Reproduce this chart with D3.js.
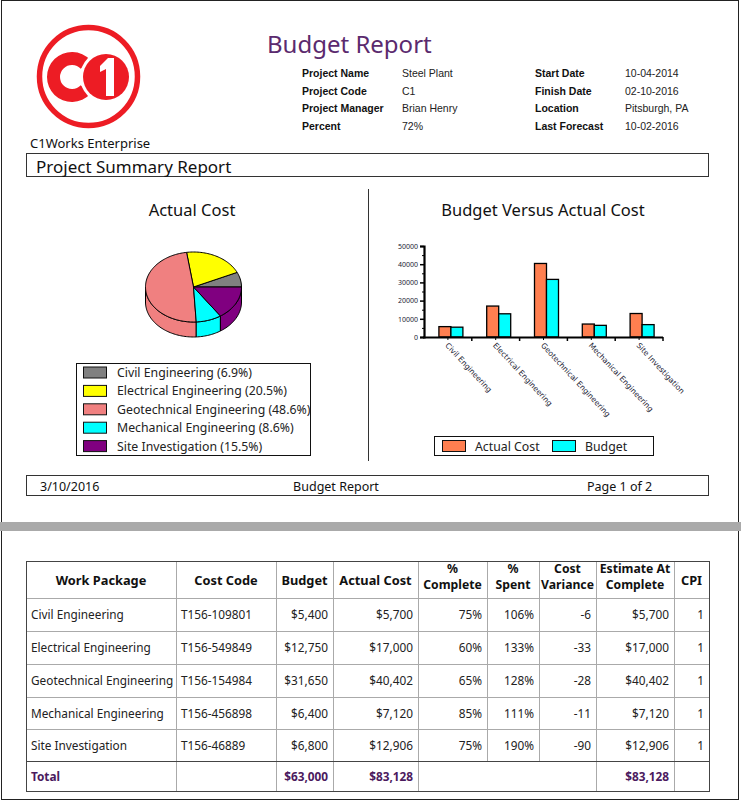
<!DOCTYPE html>
<html>
<head>
<meta charset="utf-8">
<script src="https://cdn.jsdelivr.net/npm/d3@7"></script>
<style>
  body { margin: 0; background: #fff; }
  svg text { font-family: "Noto Sans", "Open Sans", sans-serif; }
</style>
</head>
<body>
<div id="chart"></div>
<script>
// report data
var packages = ["Civil Engineering", "Electrical Engineering", "Geotechnical Engineering", "Mechanical Engineering", "Site Investigation"];
var costCodes = ["T156-109801", "T156-549849", "T156-154984", "T156-456898", "T156-46889"];
var budget = [5400, 12750, 31650, 6400, 6800];
var actual = [5700, 17000, 40402, 7120, 12906];
var pctComplete = ["75%", "60%", "65%", "85%", "75%"];
var pctSpent = ["106%", "133%", "128%", "111%", "190%"];
var costVariance = [-6, -33, -28, -11, -90];
var estimate = [5700, 17000, 40402, 7120, 12906];
var cpi = [1, 1, 1, 1, 1];
var yTicks = [0, 10000, 20000, 30000, 40000, 50000];
var infoLeft = [["Project Name", "Steel Plant"], ["Project Code", "C1"], ["Project Manager", "Brian Henry"], ["Percent", "72%"]];
var infoRight = [["Start Date", "10-04-2014"], ["Finish Date", "02-10-2016"], ["Location", "Pitsburgh, PA"], ["Last Forecast", "10-02-2016"]];
var tableHeaders = [["Work Package"], ["Cost Code"], ["Budget"], ["Actual Cost"], ["%", "Complete"], ["%", "Spent"], ["Cost", "Variance"], ["Estimate At", "Complete"], ["CPI"]];

var pieColors = ["#808080", "#ffff00", "#f08080", "#00ffff", "#800080"];
var barColors = ["#ff7f50", "#00ffff"];
var purple = "#5b2a6e";

var W = 741, H = 801;
var svg = d3.select("#chart").append("svg").attr("width", W).attr("height", H);

// page borders
svg.append("rect").attr("x", 1.5).attr("y", 0.5).attr("width", 737).attr("height", 799)
  .attr("fill", "none").attr("stroke", "#222");
svg.append("rect").attr("x", 0).attr("y", 522).attr("width", W).attr("height", 9).attr("fill", "#aaa");

// logo
var logo = svg.append("g");
logo.append("circle").attr("cx", 88.5).attr("cy", 76.5).attr("r", 49).attr("fill", "none")
  .attr("stroke", "#ed1c24").attr("stroke-width", 5.5);
var cArc = d3.arc().innerRadius(12).outerRadius(25).startAngle(0.75).endAngle(2 * Math.PI - 0.75);
logo.append("path").attr("d", cArc()).attr("transform", "translate(72,77) rotate(90)")
  .attr("fill", "#ed1c24");
logo.append("circle").attr("cx", 106).attr("cy", 77).attr("r", 26).attr("fill", "#fff");
logo.append("circle").attr("cx", 106).attr("cy", 77).attr("r", 23).attr("fill", "#ed1c24");
logo.append("path").attr("d", "M100,66 L108,58 L114,58 L114,96 L106,96 L106,69 L100,72 Z").attr("fill", "#fff");

svg.append("text").attr("x", 30).attr("y", 148).attr("font-size", 13).attr("fill", "#111").text("C1Works Enterprise");

// title + project info
svg.append("text").attr("x", 267).attr("y", 53).attr("font-size", 24).attr("fill", purple).text("Budget Report");
function infoBlock(rows, xl, xv) {
  rows.forEach(function(r, i) {
    var y = 77 + i * 17.5;
    svg.append("text").attr("x", xl).attr("y", y).attr("font-size", 10.5).attr("font-weight", "bold")
      .style("font-family", "'Liberation Sans', sans-serif").attr("fill", "#111").text(r[0]);
    svg.append("text").attr("x", xv).attr("y", y).attr("font-size", 10.5)
      .style("font-family", "'Liberation Sans', sans-serif").attr("fill", "#222").text(r[1]);
  });
}
infoBlock(infoLeft, 302, 402);
infoBlock(infoRight, 535, 625);

// summary header box
svg.append("rect").attr("x", 26.5).attr("y", 153.5).attr("width", 682).attr("height", 23)
  .attr("fill", "none").attr("stroke", "#333");
svg.append("text").attr("x", 36).attr("y", 173).attr("font-size", 17).attr("fill", "#111").text("Project Summary Report");

// divider between the charts
svg.append("line").attr("x1", 368.5).attr("x2", 368.5).attr("y1", 189).attr("y2", 461).attr("stroke", "#333");

svg.append("text").attr("x", 192).attr("y", 216).attr("text-anchor", "middle").attr("font-size", 16.5)
  .attr("fill", "#111").text("Actual Cost");
svg.append("text").attr("x", 543).attr("y", 216).attr("text-anchor", "middle").attr("font-size", 16.5)
  .attr("fill", "#111").text("Budget Versus Actual Cost");

// ---- 3D pie ----
var total = d3.sum(actual);
var pie = d3.pie().sort(null).startAngle(0).endAngle(2 * Math.PI);
var arcs = pie(actual);
var cx = 193.5, cy = 287, rx = 48, ry = 35, depth = 15;
function pt(a, dy) { return [cx + rx * Math.cos(a), cy - ry * Math.sin(a) + dy]; }
function arcPts(a0, a1, dy) {
  var n = Math.max(2, Math.ceil(Math.abs(a1 - a0) / 0.03));
  return d3.range(n + 1).map(function(i) { return pt(a0 + (a1 - a0) * i / n, dy); });
}
var line = d3.line();
var pieG = svg.append("g");
// front walls
arcs.forEach(function(d, i) {
  var s = Math.max(d.startAngle, Math.PI), e = Math.min(d.endAngle, 2 * Math.PI);
  if (e <= s) return;
  var pts = arcPts(s, e, 0).concat(arcPts(e, s, depth));
  pieG.append("path").attr("d", line(pts) + "Z").attr("fill", pieColors[i])
    .attr("stroke", "#000").attr("stroke-width", 1).attr("stroke-linejoin", "round");
});
// top faces
arcs.forEach(function(d, i) {
  var pts = [[cx, cy]].concat(arcPts(d.startAngle, d.endAngle, 0));
  pieG.append("path").attr("d", line(pts) + "Z").attr("fill", pieColors[i])
    .attr("stroke", "#000").attr("stroke-width", 1).attr("stroke-linejoin", "round");
});

// pie legend
var fmtPct = d3.format(".1%");
svg.append("rect").attr("x", 76.5).attr("y", 363.5).attr("width", 234).attr("height", 92)
  .attr("fill", "#fff").attr("stroke", "#111");
packages.forEach(function(p, i) {
  var y = 372.5 + i * 18.4;
  svg.append("rect").attr("x", 83.5).attr("y", y - 5.5).attr("width", 23).attr("height", 11)
    .attr("fill", pieColors[i]).attr("stroke", "#111");
  svg.append("text").attr("x", 117).attr("y", y + 4.5).attr("font-size", 12.3).attr("fill", "#222")
    .text(p + " (" + fmtPct(actual[i] / total) + ")");
});

// ---- bar chart ----
var plot = { left: 424, right: 663, top: 246, bottom: 337 };
var x = d3.scaleBand().domain(packages).range([plot.left, plot.right]);
var xs = d3.scaleBand().domain(["actual", "budget"]).range([0, 24]);
var y = d3.scaleLinear().domain([0, 50000]).range([plot.bottom, plot.top]);
var barG = svg.append("g");
packages.forEach(function(p, i) {
  var x0 = x(p) + x.bandwidth() / 2 - 12 + 3;
  [actual[i], budget[i]].forEach(function(v, j) {
    barG.append("rect").attr("x", x0 + xs(j === 0 ? "actual" : "budget")).attr("y", y(v))
      .attr("width", xs.bandwidth()).attr("height", y(0) - y(v))
      .attr("fill", barColors[j]).attr("stroke", "#000").attr("stroke-width", 1.3);
  });
});
// y axis
var yAxis = d3.axisLeft(y).tickValues(yTicks).tickSize(4).tickPadding(2).tickFormat(d3.format("d"));
var yg = svg.append("g").attr("transform", "translate(" + plot.left + ",0)").call(yAxis);
yg.select(".domain").attr("stroke-width", 2.2);
yg.selectAll(".tick line").attr("stroke-width", 1.5);
yg.selectAll("text").attr("font-size", 7).attr("fill", "#223");
var minor = d3.axisLeft(y).tickValues(d3.range(5000, 50000, 10000)).tickSize(2).tickFormat("");
svg.append("g").attr("transform", "translate(" + plot.left + ",0)").call(minor)
  .select(".domain").remove();
// x axis
svg.append("line").attr("x1", plot.left - 1).attr("x2", plot.right).attr("y1", plot.bottom + 0.5)
  .attr("y2", plot.bottom + 0.5).attr("stroke", "#000").attr("stroke-width", 2.2);
packages.forEach(function(p) {
  var bx = x(p) + x.bandwidth();
  svg.append("line").attr("x1", bx).attr("x2", bx).attr("y1", plot.bottom).attr("y2", plot.bottom + 4)
    .attr("stroke", "#000").attr("stroke-width", 1.5);
  var lx = x(p) + x.bandwidth() / 2;
  svg.append("line").attr("x1", lx).attr("x2", lx).attr("y1", plot.bottom).attr("y2", plot.bottom + 3)
    .attr("stroke", "#000").attr("stroke-width", 1);
  svg.append("text").attr("transform", "translate(" + (lx + 1) + "," + (plot.bottom + 5) + ") rotate(47)")
    .attr("font-size", 7.6).attr("fill", "#223").attr("dominant-baseline", "hanging")
    .style("font-family", "'DejaVu Sans', sans-serif").text(p);
});

// bar legend
svg.append("rect").attr("x", 434.5).attr("y", 436.5).attr("width", 219).attr("height", 19)
  .attr("fill", "#fff").attr("stroke", "#111");
[["Actual Cost", 442, 475], ["Budget", 552, 585]].forEach(function(l, i) {
  svg.append("rect").attr("x", l[1] + 0.5).attr("y", 440.5).attr("width", 23).attr("height", 11)
    .attr("fill", barColors[i]).attr("stroke", "#111");
  svg.append("text").attr("x", l[2]).attr("y", 450.5).attr("font-size", 12.3).attr("fill", "#222").text(l[0]);
});

// footer box
svg.append("rect").attr("x", 26.5).attr("y", 475.5).attr("width", 682).attr("height", 20)
  .attr("fill", "none").attr("stroke", "#333");
svg.append("text").attr("x", 40).attr("y", 491).attr("font-size", 12.5).attr("fill", "#111").text("3/10/2016");
svg.append("text").attr("x", 336).attr("y", 491).attr("text-anchor", "middle").attr("font-size", 12.5)
  .attr("fill", "#111").text("Budget Report");
svg.append("text").attr("x", 587).attr("y", 491).attr("font-size", 12.5).attr("fill", "#111").text("Page 1 of 2");

// ---- table ----
var cols = [26, 176, 276, 333, 418, 487, 539, 596, 674, 709];
var rowY = [561, 598, 631, 664, 697, 729, 761, 791];
var money = d3.format("$,");
var rows = packages.map(function(p, i) {
  return [p, costCodes[i], money(budget[i]), money(actual[i]), pctComplete[i], pctSpent[i],
    costVariance[i], money(estimate[i]), cpi[i]];
});
var totalRow = ["Total", "", money(d3.sum(budget)), money(d3.sum(actual)), "", "", "", money(d3.sum(estimate)), ""];
var tg = svg.append("g");
// inner grid (the total row merges the % and variance cells)
cols.slice(1, -1).forEach(function(cxl, k) {
  var merged = (k === 4 || k === 5);
  tg.append("line").attr("x1", cxl + 0.5).attr("x2", cxl + 0.5).attr("y1", rowY[0])
    .attr("y2", merged ? rowY[6] : rowY[rowY.length - 1]).attr("stroke", "#aaa");
});
rowY.slice(1, -2).forEach(function(ry2) {
  tg.append("line").attr("x1", cols[0]).attr("x2", cols[cols.length - 1]).attr("y1", ry2 + 0.5).attr("y2", ry2 + 0.5)
    .attr("stroke", "#aaa");
});
tg.append("line").attr("x1", cols[0]).attr("x2", cols[cols.length - 1]).attr("y1", rowY[6] + 0.5).attr("y2", rowY[6] + 0.5)
  .attr("stroke", "#444");
tg.append("rect").attr("x", cols[0] + 0.5).attr("y", rowY[0] + 0.5).attr("width", cols[9] - cols[0])
  .attr("height", rowY[7] - rowY[0]).attr("fill", "none").attr("stroke", "#444");
// header
tableHeaders.forEach(function(h, c) {
  var mx = (cols[c] + cols[c + 1]) / 2;
  h.forEach(function(t, k) {
    var yy = h.length === 1 ? 585 : 572.5 + k * 16.8;
    tg.append("text").attr("x", mx).attr("y", yy).attr("text-anchor", "middle")
      .attr("font-size", h.length === 1 ? 12.8 : 12.2)
      .attr("font-weight", "bold").attr("fill", "#111").text(t);
  });
});
function cellText(val, c, yy, bold) {
  var left = c < 2;
  var t = tg.append("text").attr("y", yy).attr("font-size", 11.8)
    .attr("fill", bold ? "#4b1a5e" : "#222").attr("font-weight", bold ? "bold" : "normal").text(val);
  if (left) t.attr("x", cols[c] + 5);
  else t.attr("x", cols[c + 1] - 5).attr("text-anchor", "end");
}
rows.forEach(function(r, i) {
  var yy = (rowY[i + 1] + rowY[i + 2]) / 2 + 4.5;
  r.forEach(function(v, c) { cellText(v, c, yy, false); });
});
totalRow.forEach(function(v, c) { cellText(v, c, 780.5, true); });
</script>
</body>
</html>
